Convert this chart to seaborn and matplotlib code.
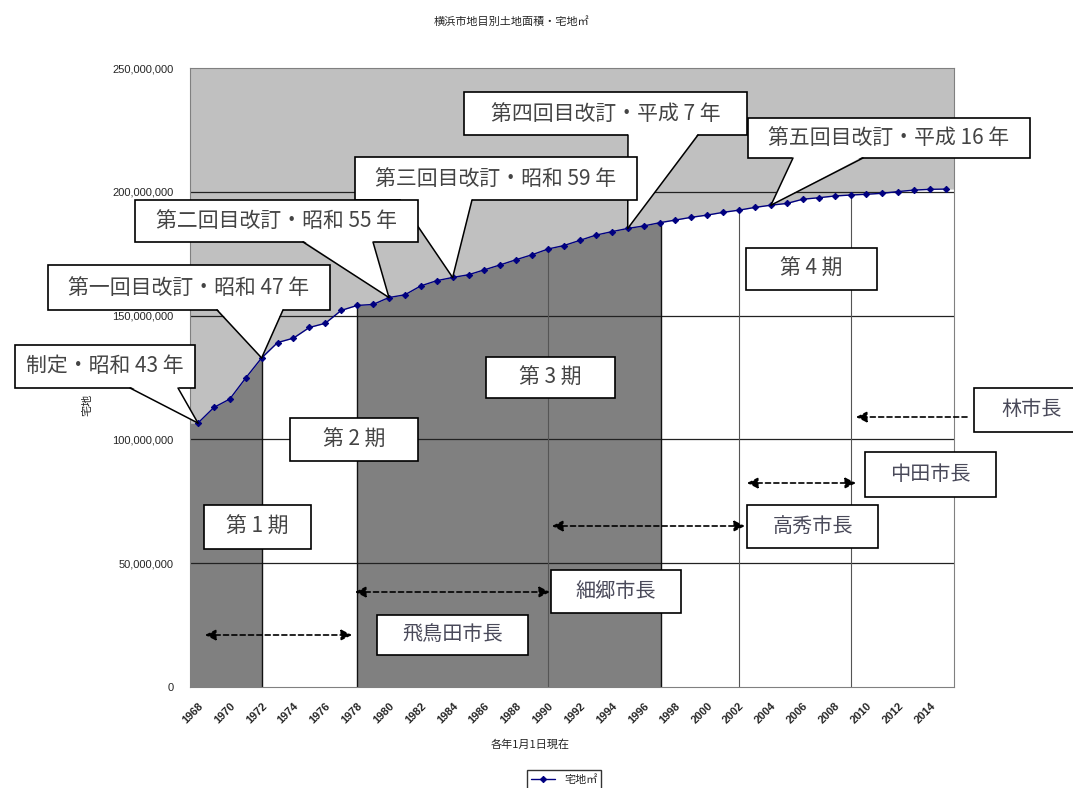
import numpy as np
import pandas as pd
import matplotlib
matplotlib.use('Agg')
import matplotlib.pyplot as plt
import seaborn as sns
from matplotlib.patches import Rectangle, Polygon
from matplotlib.lines import Line2D

# data: residential land area (m2) in Yokohama, as of Jan 1 each year
years = list(range(1968, 2016))
area_million = [106.6, 112.9, 116.3, 124.8, 132.9, 139.1, 140.9, 145.2, 146.9, 152.1,
                154.1, 154.5, 157.3, 158.4, 162.0, 164.1, 165.4, 166.5, 168.5, 170.5,
                172.6, 174.6, 176.9, 178.3, 180.4, 182.5, 183.9, 185.2, 186.2, 187.5,
                188.6, 189.7, 190.6, 191.7, 192.6, 193.7, 194.6, 195.3, 197.0, 197.6,
                198.3, 198.7, 199.0, 199.4, 200.1, 200.7, 201.0, 201.1]
tick_years = years[:-1:2]

revision_years = [1968, 1972, 1980, 1984, 1995, 2004]
revision_labels = ['制定・昭和 43 年', '第一回目改訂・昭和 47 年', '第二回目改訂・昭和 55 年',
                   '第三回目改訂・昭和 59 年', '第四回目改訂・平成 7 年', '第五回目改訂・平成 16 年']
period_labels = ['第 1 期', '第 2 期', '第 3 期', '第 4 期']
mayor_labels = ['飛鳥田市長', '細郷市長', '高秀市長', '中田市長', '林市長']

# period boundaries (x index) and other vertical markers
dark_periods = [(-0.5, 4.0), (10.0, 29.1)]
edge_lines = [4.0, 10.0, 29.1]
thin_lines = [22.0, 34.0, 41.0]

W, H = 1073, 788

df = pd.DataFrame({'idx': np.arange(len(years)), 'area': np.array(area_million) * 1e6})

sns.set_style('white')
plt.rcParams['font.family'] = ['Noto Sans CJK JP', 'DejaVu Sans']

fig = plt.figure(figsize=(W / 100, H / 100), dpi=100)
ax = fig.add_axes([190 / W, 1 - 687 / H, (954 - 190) / W, (687 - 68) / H])
ax.set_xlim(-0.5, len(years) - 0.5)
ax.set_ylim(0, 250e6)
ax.set_facecolor('#c0c0c0')

# fill under the curve: white, then dark gray for periods 1 and 3
xf = np.r_[-0.5, df['idx'], len(years) - 0.5]
yf = np.r_[df['area'].iloc[0], df['area'], df['area'].iloc[-1]]
ax.fill_between(xf, 0, yf, color='white', lw=0, zorder=1)
for x0, x1 in dark_periods:
    p = ax.fill_between(xf, 0, yf, color='#808080', lw=0, zorder=1.1)
    p.set_clip_path(Rectangle((x0, 0), x1 - x0, 250e6, transform=ax.transData))

for v in [50e6, 100e6, 150e6, 200e6]:
    ax.axhline(v, color='#222222', lw=0.9, zorder=2)
for x in edge_lines:
    ax.vlines(x, 0, np.interp(x, xf, yf), color='#111111', lw=1.0, zorder=2)
for x in thin_lines:
    ax.vlines(x, 0, np.interp(x, xf, yf), color='#555555', lw=0.8, zorder=2)

sns.lineplot(data=df, x='idx', y='area', ax=ax, color='#000080', lw=1.0,
             marker='D', markersize=3.2, markeredgecolor='#000080', label='宅地㎡', zorder=4)

# axes styling
for s in ax.spines.values():
    s.set_color('#808080')
    s.set_linewidth(0.8)
ax.set_yticks(np.arange(0, 250e6 + 1, 50e6))
ax.set_yticklabels([f'{int(v):,}' for v in np.arange(0, 250e6 + 1, 50e6)],
                   fontsize=8, family='Liberation Sans')
ax.tick_params(axis='y', direction='in', length=5, pad=12, color='black')
ax.set_xticks([y - 1968 for y in tick_years])
ax.set_xticklabels([str(y) for y in tick_years], rotation=45, ha='right', va='top',
                   rotation_mode='anchor', fontsize=8, family='Liberation Sans', fontweight='bold')
ax.tick_params(axis='x', length=0, pad=10)
ax.set_xticks(np.arange(-0.5, len(years)), minor=True)
ax.tick_params(axis='x', which='minor', direction='in', length=4, color='black')
ax.set_xlabel('')
ax.set_ylabel('宅地', fontsize=8)
ax.yaxis.set_label_coords(-0.128, 0.456)

ax.legend(loc='upper left', bbox_to_anchor=(527 / W, 1 - 770 / H), bbox_transform=fig.transFigure,
          fontsize=8, frameon=True, fancybox=False, edgecolor='black', borderpad=0.35,
          handlelength=2.2, borderaxespad=0)

fig.text(512 / W, 1 - 22 / H, '横浜市地目別土地面積・宅地㎡', fontsize=8, ha='center', va='center')
fig.text(530 / W, 1 - 745 / H, '各年1月1日現在', fontsize=8, ha='center', va='center')


def pf(x, y):
    return (x / W, 1 - y / H)


def box(x0, y0, x1, y1, text, z=10, color='#444444', size=15):
    fig.add_artist(Rectangle(pf(x0, y1), (x1 - x0) / W, (y1 - y0) / H, transform=fig.transFigure,
                             facecolor='white', edgecolor='black', lw=1.2, zorder=z))
    fig.text((x0 + x1) / 2 / W, 1 - (y0 + y1) / 2 / H, text, ha='center', va='center',
             fontsize=size, color=color, zorder=z + 0.3)


# callouts, drawn from last to first so earlier ones sit on top
callout_boxes = [(15, 345, 195, 388), (48, 265, 330, 310), (135, 200, 418, 242),
                 (355, 157, 637, 200), (464, 92, 747, 135), (748, 118, 1030, 158)]
wedge_bases = [(130, 178), (217, 283), (303, 373), (400, 472), (628, 698), (793, 863)]
inv = fig.transFigure.inverted()
for k in reversed(range(len(revision_years))):
    z = 10 + (len(revision_years) - k) * 2
    x0, y0, x1, y1 = callout_boxes[k]
    i = revision_years[k] - 1968
    apex = inv.transform(ax.transData.transform((i, df['area'].iloc[i])))
    box(x0, y0, x1, y1, revision_labels[k], z=z, size=15)
    b0, b1 = wedge_bases[k]
    fig.add_artist(Polygon([pf(b0, y1 - 1.5), pf(b1, y1 - 1.5), apex], closed=True,
                           transform=fig.transFigure, facecolor='white', lw=0, zorder=z + 0.1))
    for b in (b0, b1):
        fig.add_artist(Line2D([b / W, apex[0]], [1 - y1 / H, apex[1]], transform=fig.transFigure,
                              color='black', lw=1.1, zorder=z + 0.2))

period_boxes = [(204, 505, 311, 549), (290, 418, 418, 461), (486, 357, 615, 398), (746, 248, 877, 290)]
for (x0, y0, x1, y1), t in zip(period_boxes, period_labels):
    box(x0, y0, x1, y1, t, z=8, size=15)

mayor_boxes = [(377, 615, 528, 655), (551, 570, 681, 613), (747, 505, 878, 548),
               (865, 452, 996, 497), (974, 388, 1090, 432)]
for (x0, y0, x1, y1), t in zip(mayor_boxes, mayor_labels):
    box(x0, y0, x1, y1, t, z=8, size=14.5, color='#4a4a5a')

mayor_arrows = [((205, 635), (352, 635), '<|-|>'), ((355, 592), (550, 592), '<|-|>'),
                ((552, 526), (745, 526), '<|-|>'), ((747, 483), (856, 483), '<|-|>'),
                ((967, 417), (856, 417), '-|>')]
for start, end, style in mayor_arrows:
    ax.annotate('', xy=pf(*end), xytext=pf(*start), xycoords='figure fraction',
                textcoords='figure fraction', annotation_clip=False,
                arrowprops=dict(arrowstyle=style, linestyle=(0, (3, 2)), color='black', lw=1.2,
                                mutation_scale=16, shrinkA=0, shrinkB=0), zorder=7)

fig.savefig('out.png', dpi=100)
